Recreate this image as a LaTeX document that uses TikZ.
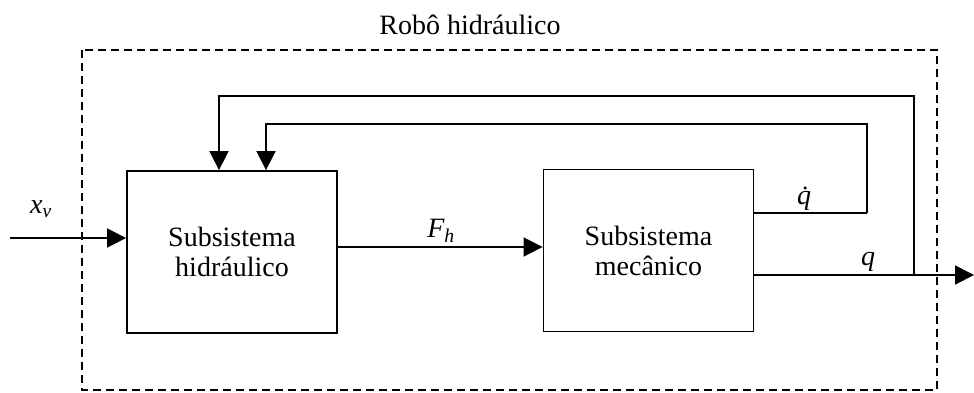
\documentclass[tikz,border=0pt]{standalone}
\usepackage{fontspec}
\setmainfont{Liberation Serif}
\usetikzlibrary{arrows.meta}
\begin{document}
\begin{tikzpicture}[x=1pt,y=-1pt,
  blk/.style={draw,line width=1.8pt,minimum width=210pt,minimum height=162pt,align=center,font=\fontsize{28}{30}\selectfont,inner sep=0pt},
  conn/.style={line width=1.7pt},
  arr/.style={conn,-{Triangle[length=19pt,width=19pt]}},
  lbl/.style={font=\fontsize{28}{30}\selectfont\itshape,inner sep=0pt},
  frame/.style={line width=1.8pt,dash pattern=on 8pt off 5pt}]
\useasboundingbox (0,0) rectangle (974,393);
\draw[frame] (82,50) rectangle (937,390);
\node[font=\fontsize{28}{30}\selectfont] (title) at (470,25) {Robô hidráulico};
\node[blk] (hyd) at (232,252) {Subsistema\\hidráulico};
\node[blk] (mech) at (648.5,250.5) {Subsistema\\mecânico};
\coordinate (in) at (10,238);
\coordinate (fh) at (440,247);
\coordinate (qd) at (867,213);
\coordinate (qo) at (914,275);
\coordinate (out) at (974,275);
\coordinate (t1) at (219,96);
\coordinate (t2) at (266,124);
\draw[arr] (in) -- (hyd.west |- in);
\draw[arr] (hyd.east |- fh) -- (mech.west |- fh);
\draw[conn] (mech.east |- qd) -- (qd);
\draw[arr] (mech.east |- qo) -- (out);
\draw[arr] (qo) |- (t1) -- (t1 |- hyd.north);
\draw[arr] (qd) |- (t2) -- (t2 |- hyd.north);
\node[lbl] (lxv) at (41,209) {x\textsubscript{v}};
\node[lbl] (lfh) at (441,231) {F\textsubscript{h}};
\node[lbl] (lqd) at (804,199) {q^^^^0307};
\node[lbl] (lq) at (868,262) {q};
\end{tikzpicture}
\end{document}
